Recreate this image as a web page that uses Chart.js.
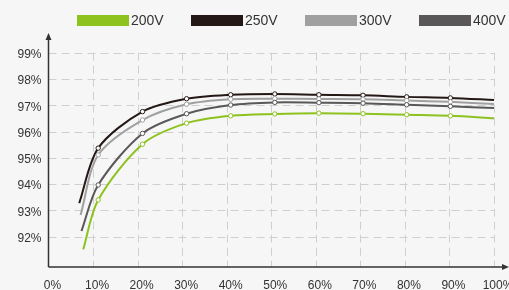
<!DOCTYPE html>
<html>
<head>
<meta charset="utf-8">
<script src="https://cdn.jsdelivr.net/npm/chart.js@4/dist/chart.umd.min.js"></script>
<style>
  html, body { margin: 0; padding: 0; background: #f6f6f6; }
  #wrap { width: 509px; height: 290px; position: relative; }
</style>
</head>
<body>
<div id="wrap"><canvas id="chart"></canvas></div>
<script>
// load points (% of rated load), markers sit a little right of the grid lines
const loadPct = [11.15, 21.1, 31.0, 40.9, 50.8, 60.7, 70.6, 80.4, 90.2];
const series = ["200V", "250V", "300V", "400V"];
const colors = ["#8dc21f", "#231815", "#a0a0a0", "#595757"];

// start of each curve (no marker) and end at 100%
const startPct = [7.8, 6.9, 7.2, 7.4];
const startEff = [91.52, 93.28, 92.83, 92.22];
const endEff = [96.51, 97.20, 97.05, 96.90];

const eff200 = [93.40, 95.52, 96.32, 96.60, 96.67, 96.70, 96.68, 96.64, 96.60];
const eff250 = [95.37, 96.76, 97.25, 97.40, 97.43, 97.40, 97.38, 97.32, 97.28];
const eff300 = [95.11, 96.44, 97.04, 97.23, 97.25, 97.24, 97.23, 97.18, 97.13];
const eff400 = [93.97, 95.93, 96.68, 97.01, 97.11, 97.10, 97.08, 97.02, 96.96];
const effAll = [eff200, eff250, eff300, eff400];

const FONT = "'Liberation Sans', Arial, sans-serif";

const datasets = series.map((name, i) => {
    const pts = [{ x: startPct[i], y: startEff[i] }];
    loadPct.forEach((p, j) => pts.push({ x: p, y: effAll[i][j] }));
    pts.push({ x: 100, y: endEff[i] });
    return {
        label: name,
        data: pts,
        borderColor: colors[i],
        backgroundColor: colors[i],
        borderWidth: 2,
        tension: 0.3,
        pointRadius: pts.map((p, k) => (k == 0 || k == pts.length - 1) ? 0 : 2.2),
        pointBackgroundColor: "#ffffff",
        pointBorderColor: colors[i],
        pointBorderWidth: 1,
        order: 4 - i
    };
});

// dashed grid, axes with arrow heads and the legend row
const decor = {
    id: "decor",
    beforeDatasetsDraw(chart) {
        const ctx = chart.ctx;
        const xs = chart.scales.x, ys = chart.scales.y;
        const top = ys.getPixelForValue(99);
        ctx.save();
        ctx.strokeStyle = "#cfcfcf";
        ctx.lineWidth = 1;
        ctx.setLineDash([8, 5]);
        ys.ticks.forEach(t => {
            if (t.value <= 91) return;
            const y = Math.round(ys.getPixelForValue(t.value)) + 0.5;
            ctx.beginPath();
            ctx.moveTo(xs.left, y);
            ctx.lineTo(xs.getPixelForValue(100), y);
            ctx.stroke();
        });
        xs.ticks.forEach(t => {
            if (t.value <= 0) return;
            const x = Math.round(xs.getPixelForValue(t.value)) + 0.5;
            ctx.beginPath();
            ctx.moveTo(x, top);
            ctx.lineTo(x, ys.bottom);
            ctx.stroke();
        });
        ctx.restore();
    },
    afterDatasetsDraw(chart) {
        const ctx = chart.ctx;
        const x0 = chart.scales.x.left;
        const y0 = chart.scales.y.bottom;
        ctx.save();
        ctx.strokeStyle = "#333";
        ctx.fillStyle = "#333";
        ctx.lineWidth = 1.5;
        ctx.beginPath();
        ctx.moveTo(x0, y0);
        ctx.lineTo(x0, 37);
        ctx.moveTo(x0, y0);
        ctx.lineTo(505, y0);
        ctx.stroke();
        ctx.beginPath();
        ctx.moveTo(x0, 33);
        ctx.lineTo(x0 - 3, 40);
        ctx.lineTo(x0 + 3, 40);
        ctx.closePath();
        ctx.fill();
        ctx.beginPath();
        ctx.moveTo(509, y0);
        ctx.lineTo(502, y0 - 3);
        ctx.lineTo(502, y0 + 3);
        ctx.closePath();
        ctx.fill();

        // legend
        ctx.font = "14px " + FONT;
        ctx.textBaseline = "middle";
        ctx.textAlign = "left";
        chart.data.datasets.forEach((d, i) => {
            const bx = 77 + i * 114;
            ctx.fillStyle = d.borderColor;
            ctx.fillRect(bx, 15, 52, 11);
            ctx.fillStyle = "#333";
            ctx.fillText(d.label, bx + 54, 21);
        });
        ctx.restore();
    }
};

new Chart(document.getElementById("chart"), {
    type: "line",
    data: { datasets: datasets },
    plugins: [decor],
    options: {
        responsive: true,
        maintainAspectRatio: false,
        animation: false,
        layout: { padding: { left: 0, right: 15, top: 52.7, bottom: 0 } },
        plugins: {
            legend: { display: false },
            tooltip: { enabled: false }
        },
        scales: {
            x: {
                type: "linear",
                min: 0,
                max: 100,
                ticks: {
                    stepSize: 10,
                    callback: v => v + "%",
                    color: "#333",
                    font: { family: FONT, size: 12 },
                    padding: 11,
                    labelOffset: 4,
                    maxRotation: 0
                },
                grid: { display: false, drawTicks: false },
                border: { display: false },
                afterFit: s => { s.height = 23; s.paddingLeft = 0; s.paddingRight = 0; }
            },
            y: {
                type: "linear",
                min: 90.85,
                max: 99,
                afterBuildTicks: s => { s.ticks = s.ticks.filter(t => Number.isInteger(t.value)); },
                ticks: {
                    stepSize: 1,
                    callback: v => v + "%",
                    color: "#333",
                    font: { family: FONT, size: 12 },
                    padding: 7,
                    labelOffset: 2
                },
                grid: { display: false, drawTicks: false },
                border: { display: false },
                afterFit: s => { s.width = 48.5; s.paddingTop = 0; s.paddingBottom = 0; }
            }
        }
    }
});
</script>
</body>
</html>
